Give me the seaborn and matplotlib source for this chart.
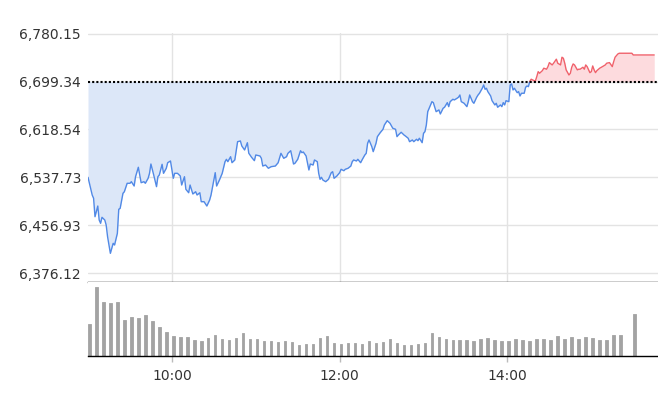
import numpy as np
import pandas as pd
import matplotlib
matplotlib.use("Agg")
import matplotlib.pyplot as plt
import seaborn as sns

# intraday index level, minutes after 09:00
minutes = [0, 1, 3, 4, 5, 7, 8, 9, 10, 12, 13, 14, 16, 18, 19, 21, 22, 23, 25, 26,
           28, 30, 31, 33, 34, 36, 37, 38, 40, 41, 43, 44, 45, 47, 49, 50, 51, 53, 54, 56,
           57, 59, 61, 62, 64, 66, 67, 69, 70, 72, 73, 75, 77, 78, 80, 81, 83, 85, 87, 88,
           91, 92, 94, 96, 98, 99, 100, 102, 103, 105, 107, 109, 110, 112, 114, 115, 117, 119, 120, 123,
           124, 125, 127, 129, 131, 134, 136, 138, 140, 142, 143, 145, 147, 148, 150, 152, 153, 154, 156, 158,
           159, 161, 162, 164, 165, 166, 167, 168, 170, 172, 174, 175, 176, 178, 180, 181, 183, 184, 186, 188,
           189, 190, 192, 193, 195, 196, 198, 199, 200, 201, 203, 204, 206, 207, 209, 211, 212, 214, 216, 218,
           220, 221, 222, 224, 226, 227, 229, 230, 232, 233, 235, 236, 237, 239, 240, 241, 242, 243, 245, 246,
           247, 249, 251, 252, 254, 255, 257, 258, 259, 261, 262, 264, 265, 266, 267, 269, 271, 272, 273, 275,
           276, 278, 279, 280, 282, 283, 284, 285, 286, 288, 289, 291, 292, 293, 295, 296, 297, 298, 299, 301,
           302, 303, 304, 305, 307, 308, 309, 310, 312, 313, 314, 315, 316, 317, 319, 320, 321, 322, 323, 325,
           326, 328, 329, 330, 332, 333, 335, 336, 338, 339, 340, 341, 342, 344, 345, 346, 347, 348, 350, 351,
           352, 354, 355, 356, 357, 359, 360, 361, 362, 363, 364, 366, 368, 370, 371, 373, 375, 376, 377, 379,
           380, 389, 390, 405]
prices = [6538.0, 6527.9, 6508.2, 6502.6, 6471.6, 6489.6, 6466.0, 6460.5, 6470.6, 6466.0,
          6457.6, 6437.9, 6409.9, 6426.8, 6423.9, 6443.6, 6484.1, 6485.7, 6511.0, 6513.7,
          6527.9, 6527.9, 6530.6, 6523.3, 6539.0, 6554.9, 6541.9, 6528.9, 6530.6, 6527.9,
          6536.3, 6544.7, 6560.4, 6541.9, 6522.2, 6539.0, 6541.9, 6559.9, 6544.7, 6553.2,
          6562.6, 6565.5, 6536.3, 6544.7, 6544.7, 6540.2, 6525.0, 6539.0, 6517.8, 6512.0,
          6525.0, 6509.9, 6513.7, 6508.2, 6512.0, 6496.9, 6496.9, 6489.6, 6499.7, 6508.2,
          6545.8, 6523.3, 6533.4, 6544.7, 6564.3, 6568.3, 6564.3, 6572.7, 6562.6, 6567.2,
          6598.0, 6599.2, 6590.8, 6584.0, 6596.3, 6578.5, 6571.7, 6566.0, 6575.6, 6573.9,
          6570.0, 6557.0, 6558.7, 6553.2, 6555.9, 6557.0, 6562.6, 6578.4, 6570.0, 6572.7,
          6578.4, 6582.8, 6560.4, 6561.6, 6568.3, 6582.8, 6579.5, 6580.6, 6573.9, 6550.3,
          6560.4, 6558.7, 6567.2, 6564.3, 6544.7, 6534.6, 6538.0, 6533.4, 6530.6, 6534.6,
          6545.8, 6547.4, 6536.3, 6540.2, 6545.8, 6551.5, 6549.1, 6551.5, 6553.2, 6557.0,
          6564.3, 6567.2, 6565.5, 6568.3, 6562.6, 6567.2, 6575.6, 6578.4, 6595.3, 6600.9,
          6589.6, 6581.2, 6595.3, 6606.5, 6613.2, 6618.9, 6626.2, 6633.4, 6629.0, 6620.6,
          6618.9, 6606.5, 6609.3, 6613.9, 6609.3, 6607.6, 6603.8, 6598.0, 6600.9, 6598.0,
          6602.1, 6599.7, 6603.8, 6596.3, 6612.2, 6614.9, 6626.2, 6648.6, 6659.9, 6665.4,
          6663.8, 6648.6, 6651.5, 6644.7, 6654.3, 6656.0, 6663.8, 6657.0, 6665.4, 6669.5,
          6668.3, 6671.2, 6672.9, 6676.7, 6665.4, 6662.7, 6657.0, 6665.4, 6676.7, 6665.4,
          6662.7, 6672.9, 6676.7, 6679.6, 6688.0, 6693.6, 6686.3, 6688.0, 6682.3, 6675.0,
          6667.1, 6659.9, 6662.7, 6656.0, 6659.9, 6657.0, 6663.8, 6659.9, 6667.1, 6665.4,
          6693.6, 6695.3, 6685.1, 6688.0, 6680.6, 6682.3, 6675.0, 6679.6, 6679.6, 6689.7,
          6691.9, 6690.7, 6699.6, 6703.2, 6700.9, 6700.3, 6707.6, 6716.0, 6713.3, 6717.7,
          6721.8, 6720.1, 6724.5, 6731.2, 6727.3, 6730.2, 6737.0, 6730.2, 6727.3, 6740.3,
          6738.6, 6730.2, 6719.0, 6710.4, 6713.3, 6723.4, 6729.0, 6727.3, 6719.0, 6720.1,
          6720.1, 6723.4, 6720.1, 6727.3, 6724.5, 6714.3, 6716.0, 6725.6, 6719.0, 6714.3,
          6717.7, 6721.8, 6724.5, 6727.3, 6730.2, 6731.2, 6724.5, 6732.8, 6740.3, 6745.8,
          6747.0, 6747.0, 6744.1, 6744.1]
prev_close = 6699.34

# 5-minute volume bars (09:00 .. 15:20, then the 15:30 close)
vol_minutes = list(range(0, 385, 5)) + [390]
volumes = [95, 206, 163, 160, 163, 109, 118, 115, 124, 106, 88, 73, 61, 58, 58, 49, 46, 55, 64, 52,
           49, 55, 70, 52, 52, 46, 46, 41, 45, 42, 33, 36, 36, 54, 60, 39, 36, 39, 39, 36,
           45, 39, 42, 51, 39, 33, 33, 36, 39, 69, 57, 51, 48, 48, 48, 45, 51, 54, 48, 45,
           45, 51, 48, 45, 51, 51, 48, 60, 51, 57, 51, 57, 54, 48, 48, 63, 63, 126]

y_ticks = [6376.12, 6456.93, 6537.73, 6618.54, 6699.34, 6780.15]
x_ticks = [60, 180, 300]
x_labels = ["10:00", "12:00", "14:00"]

sns.set_theme(style="white")
plt.rcParams["font.family"] = ["DejaVu Sans"]

df = pd.DataFrame({"t": minutes, "price": prices})
t = df["t"].to_numpy(float)
p = df["price"].to_numpy(float)

# split where the line crosses the previous close for good
above = p >= prev_close
k = len(p) - int(np.argmin(above[::-1]))
tc = t[k - 1] + (prev_close - p[k - 1]) / (p[k] - p[k - 1]) * (t[k] - t[k - 1])
blue_df = pd.DataFrame({"t": list(t[:k]) + [tc], "price": list(p[:k]) + [prev_close]})
red_df = pd.DataFrame({"t": [tc] + list(t[k:]), "price": [prev_close] + list(p[k:])})

fig = plt.figure(figsize=(6.58, 4.08), dpi=100)
ax = fig.add_axes([88 / 658, 1 - 282 / 408, 570 / 658, (282 - 33.3) / 408])
axv = fig.add_axes([88 / 658, 1 - 356 / 408, 570 / 658, 74 / 408], sharex=ax)

ax.fill_between(t, p, prev_close, where=p <= prev_close, interpolate=True,
                color="#dce7f8", lw=0)
ax.fill_between(t, p, prev_close, where=p >= prev_close, interpolate=True,
                color="#fddbde", lw=0)
sns.lineplot(data=blue_df, x="t", y="price", ax=ax, color="#5189e6", lw=1.0)
sns.lineplot(data=red_df, x="t", y="price", ax=ax, color="#f0616b", lw=1.0)
ax.axhline(prev_close, color="black", lw=1.5, ls=(0, (1, 1)), zorder=5)

ax.set_xlim(0, 407.7)
ax.set_ylim(6361.6, 6780.6)
ax.set_yticks(y_ticks)
ax.set_yticklabels([f"{v:,.2f}" for v in y_ticks])
ax.set_xticks(x_ticks)
ax.grid(True, color="#e3e3e3", lw=1)
ax.set_xlabel("")
ax.set_ylabel("")
ax.tick_params(axis="y", length=0, pad=5, labelsize=10, labelcolor="#333333")
ax.tick_params(axis="x", length=0, labelbottom=False)
for s in ["top", "left", "right"]:
    ax.spines[s].set_visible(False)
ax.spines["bottom"].set_color("black")
ax.spines["bottom"].set_linewidth(1)

axv.bar(vol_minutes, volumes, width=1.9, align="edge", color="#a3a3a3",
        edgecolor="#a3a3a3", linewidth=0.6)
axv.set_ylim(0, 222)
axv.set_yticks([])
axv.set_xticks(x_ticks)
axv.set_xticklabels(x_labels)
axv.grid(False)
axv.tick_params(axis="x", length=4.5, width=1, color="#bbbbbb", pad=5,
                labelsize=10, labelcolor="#333333", bottom=True)
for s in ["top", "left", "right"]:
    axv.spines[s].set_visible(False)
axv.spines["bottom"].set_color("black")
axv.spines["bottom"].set_linewidth(1)

fig.savefig("out.png", dpi=100)
